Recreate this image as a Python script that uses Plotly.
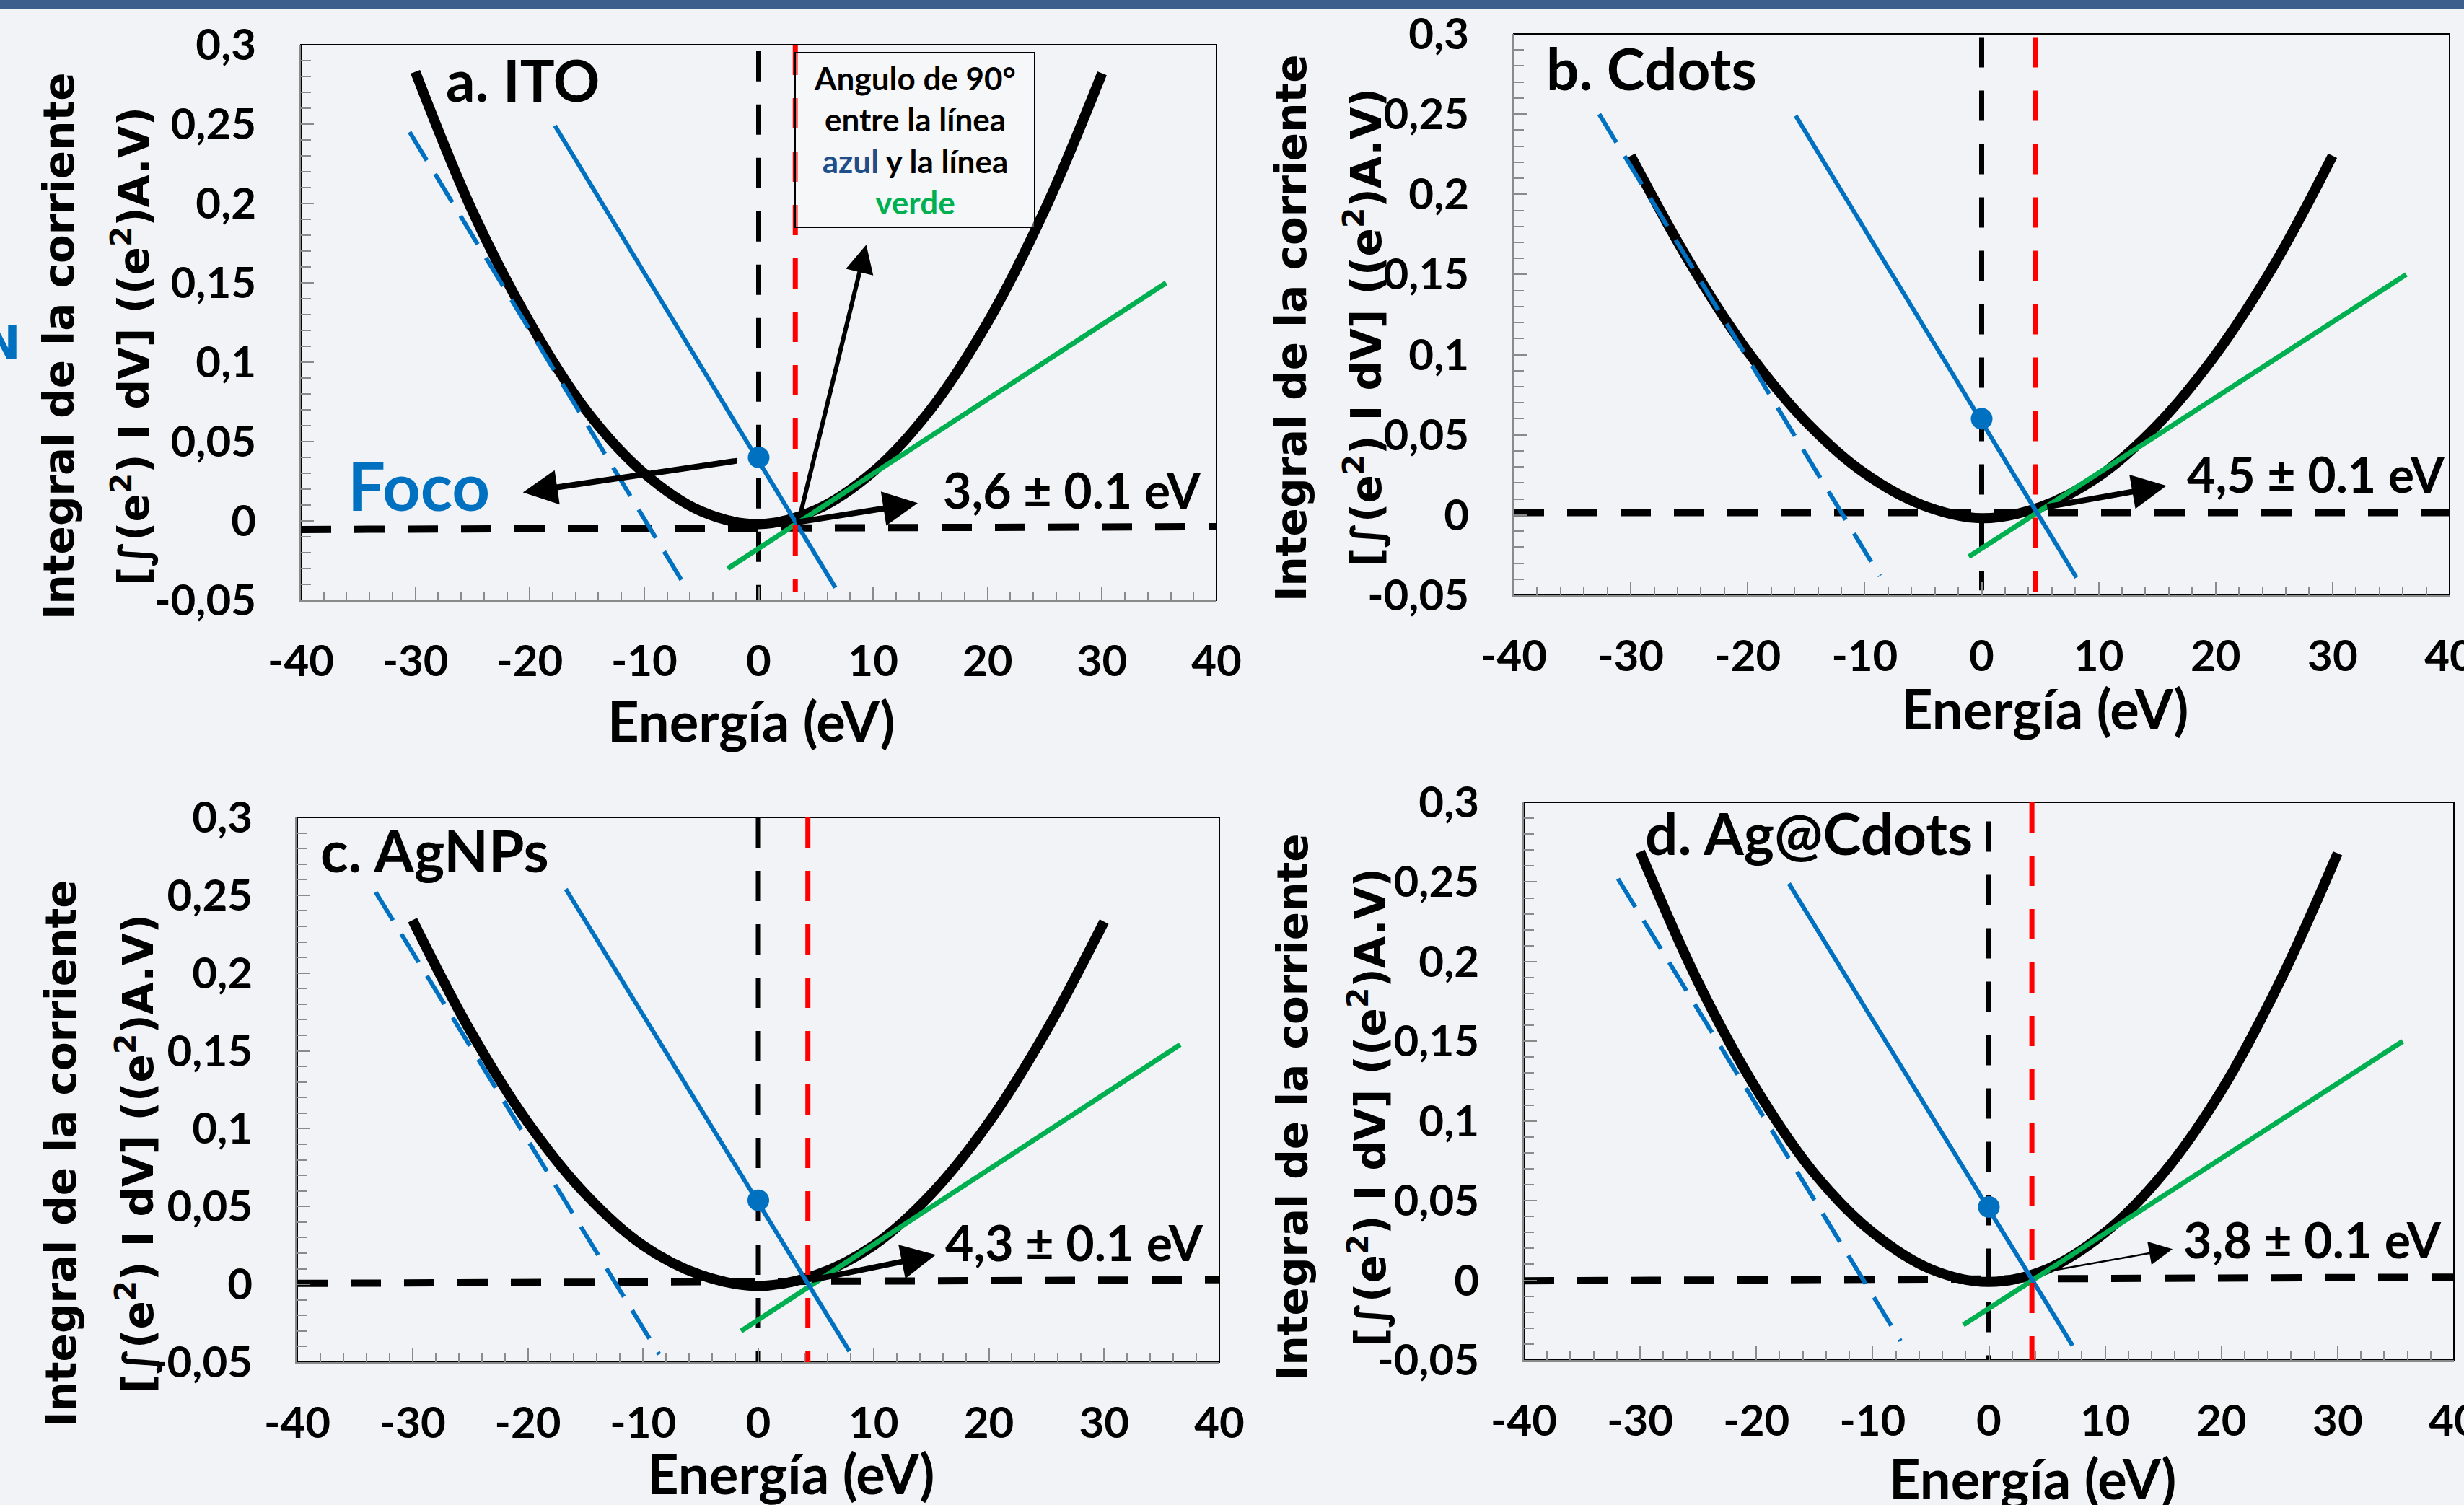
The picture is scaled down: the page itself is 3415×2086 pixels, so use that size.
import plotly.graph_objects as go

W, H = 3415, 2086

# ---------------- data ----------------
energy = [-30, -25, -20, -15, -10, -5, 0, 5, 10, 15, 20, 25, 30]
ito_curve = [0.283, 0.195, 0.125, 0.069, 0.030, 0.006, -0.002, 0.007, 0.031, 0.070, 0.125, 0.196, 0.282]
cdots_curve = [0.224, 0.158, 0.102, 0.058, 0.026, 0.006, -0.002, 0.005, 0.024, 0.056, 0.100, 0.156, 0.224]
agnps_curve = [0.234, 0.163, 0.104, 0.058, 0.025, 0.006, -0.001, 0.006, 0.025, 0.058, 0.104, 0.163, 0.233]
agcdots_curve = [0.269, 0.187, 0.120, 0.067, 0.030, 0.007, -0.001, 0.007, 0.030, 0.067, 0.119, 0.187, 0.268]

panel_titles = ["a. ITO", "b. Cdots", "c. AgNPs", "d. Ag@Cdots"]
wf_labels = ["3,6 ± 0.1 eV", "4,5 ± 0.1 eV", "4,3 ± 0.1 eV", "3,8 ± 0.1 eV"]
work_function_x = [3.2, 4.6, 4.3, 3.7]
focus_y = [0.040, 0.060, 0.054, 0.046]

blue_solid_x = [[-17.8, 6.7], [-15.9, 8.1], [-16.7, 7.9], [-17.2, 7.2]]
blue_solid_y = [[0.249, -0.042], [0.249, -0.039], [0.254, -0.043], [0.249, -0.041]]
blue_dash_x = [[-30.5, -6.1], [-32.7, -8.7], [-33.2, -8.6], [-31.9, -7.6]]
blue_dash_y = [[0.245, -0.045], [0.250, -0.038], [0.252, -0.045], [0.252, -0.038]]
green_x = [[-2.7, 35.6], [-1.1, 36.3], [-1.5, 36.6], [-2.2, 35.6]]
green_y = [[-0.030, 0.150], [-0.026, 0.150], [-0.030, 0.154], [-0.028, 0.150]]
baseline_x = [-40, 40]
baseline_y = [[-0.0054, -0.0036], [0.0015, 0.0015], [0.0006, 0.003], [-0.0003, 0.002]]
zero_line_y = [[0.296, -0.05], [0.298, -0.047], [0.30, -0.05], [0.288, -0.05]]
red_line_y = [[0.30, -0.045], [0.298, -0.048], [0.30, -0.05], [0.30, -0.05]]

# value arrows (tail at the crossing, head towards the label)
arrow_tail_x = [3.2, 5.5, 4.5, 5.2]
arrow_tail_y = [-0.001, 0.005, 0.0025, 0.0058]
arrow_head_x = [13.9, 15.8, 15.4, 15.8]
arrow_head_y = [0.0112, 0.0183, 0.019, 0.0196]
arrow_width = [8, 8, 8, 2.5]
label_x = [16.0, 17.4, 16.1, 16.6]
label_y = [0.020, 0.026, 0.027, 0.026]
title_x = [-27.45, -37.35, -38.1, -29.7]
title_y = [0.278, 0.279, 0.279, 0.281]

x_ticks = [-40, -30, -20, -10, 0, 10, 20, 30, 40]
x_ticklabels = ["-40", "-30", "-20", "-10", "0", "10", "20", "30", "40"]
y_ticks = [-0.05, 0, 0.05, 0.1, 0.15, 0.2, 0.25, 0.3]
y_ticklabels = ["-0,05", "0", "0,05", "0,1", "0,15", "0,2", "0,25", "0,3"]

curves = [ito_curve, cdots_curve, agnps_curve, agcdots_curve]

# ---------------- layout geometry (pixels) ----------------
plot_px = [  # left, right, top, bottom
    (417, 1686, 62, 832),
    (2098, 3395, 47, 825),
    (412, 1690, 1133, 1888),
    (2112, 3401, 1112, 1885),
]
ytitle_px = [  # line1 x, line2 x, center y
    (82, 182, 480),
    (1790, 1890, 454),
    (85, 188, 1599),
    (1792, 1896, 1535),
]
xtitle_px = [(1041, 998), (2834, 981), (1096, 2041), (2817, 2048)]

def px_x(p):
    return p / W

def px_y(p):
    return 1 - p / H

BLUE = "#0070c0"
GREEN = "#00b050"
RED = "#ff0000"
AXC = "#8a8a8a"
TICKFONT = dict(family="Lato, Open Sans, sans-serif", size=60, color="black", weight="bold")

fig = go.Figure()
for i in range(4):
    sfx = "" if i == 0 else str(i + 1)
    common = dict(xaxis="x" + sfx, yaxis="y" + sfx, showlegend=False, hoverinfo="skip", mode="lines")
    fig.add_trace(go.Scatter(x=baseline_x, y=baseline_y[i],
                             line=dict(color="black", width=10, dash="42px,32px"), **common))
    fig.add_trace(go.Scatter(x=[0, 0], y=zero_line_y[i],
                             line=dict(color="black", width=7, dash="42px,32px"), **common))
    fig.add_trace(go.Scatter(x=energy, y=curves[i],
                             line=dict(color="black", width=14, shape="spline", smoothing=1.0), **common))
    fig.add_trace(go.Scatter(x=green_x[i], y=green_y[i], line=dict(color=GREEN, width=7), **common))
    fig.add_trace(go.Scatter(x=blue_dash_x[i], y=blue_dash_y[i],
                             line=dict(color=BLUE, width=6, dash="46px,22px"), **common))
    fig.add_trace(go.Scatter(x=blue_solid_x[i], y=blue_solid_y[i], line=dict(color=BLUE, width=6), **common))
    fig.add_trace(go.Scatter(x=[work_function_x[i]] * 2, y=red_line_y[i],
                             line=dict(color=RED, width=7, dash="42px,32px"), **common))
    fig.add_trace(go.Scatter(x=[0], y=[focus_y[i]], mode="markers",
                             marker=dict(color=BLUE, size=30),
                             xaxis="x" + sfx, yaxis="y" + sfx, showlegend=False, hoverinfo="skip"))

layout = dict(
    width=W, height=H,
    margin=dict(l=0, r=0, t=0, b=0, pad=0, autoexpand=False),
    paper_bgcolor="#f2f3f6",
    plot_bgcolor="rgba(0,0,0,0)",
    showlegend=False,
)
shapes = [dict(type="rect", xref="paper", yref="paper", x0=0, x1=1, y0=px_y(13), y1=1,
               fillcolor="#3b5e8c", line=dict(width=0), layer="below")]
annotations = []

for i in range(4):
    sfx = "" if i == 0 else str(i + 1)
    l, r, t, b = plot_px[i]
    layout["xaxis" + sfx] = dict(
        domain=[px_x(l), px_x(r)], range=[-40, 40], anchor="y" + sfx, automargin=False,
        tickmode="array", tickvals=x_ticks, ticktext=x_ticklabels,
        ticks="inside", ticklen=19, tickwidth=2, tickcolor=AXC,
        minor=dict(tickmode="linear", tick0=-40, dtick=2, ticks="inside", ticklen=12,
                   tickwidth=2, tickcolor=AXC, showgrid=False),
        showline=True, linecolor=AXC, linewidth=3, showgrid=False, zeroline=False,
        tickfont=TICKFONT, ticklabelstandoff=30, ticklabeloverflow="allow",
    )
    layout["yaxis" + sfx] = dict(
        domain=[px_y(b), px_y(t)], range=[-0.05, 0.3], anchor="x" + sfx, automargin=False,
        tickmode="array", tickvals=y_ticks, ticktext=y_ticklabels,
        ticks="inside", ticklen=18, tickwidth=2, tickcolor=AXC,
        minor=dict(tickmode="linear", tick0=-0.05, dtick=0.01, ticks="inside", ticklen=14,
                   tickwidth=2, tickcolor=AXC, showgrid=False),
        showline=True, linecolor=AXC, linewidth=3, showgrid=False, zeroline=False,
        tickfont=TICKFONT, ticklabelstandoff=47,
    )
    shapes.append(dict(type="rect", xref=f"x{sfx} domain", yref=f"y{sfx} domain",
                       x0=0, x1=1, y0=0, y1=1, line=dict(color="black", width=2), layer="below"))

    xr, yr = "x" + sfx, "y" + sfx
    # panel title
    annotations.append(dict(xref=xr, yref=yr, x=title_x[i], y=title_y[i], text=panel_titles[i],
                            showarrow=False, xanchor="left", yanchor="middle",
                            font=dict(family="Lato, sans-serif", size=80, color="black", weight="bold")))
    # value arrow
    annotations.append(dict(xref=xr, yref=yr, axref=xr, ayref=yr,
                            x=arrow_head_x[i], y=arrow_head_y[i], ax=arrow_tail_x[i], ay=arrow_tail_y[i],
                            text="", showarrow=True, arrowhead=2, arrowsize=1.2 if i < 3 else 2.6,
                            arrowwidth=arrow_width[i], arrowcolor="black"))
    annotations.append(dict(xref=xr, yref=yr, x=label_x[i], y=label_y[i], text=wf_labels[i],
                            showarrow=False, xanchor="left", yanchor="middle",
                            font=dict(family="Lato, sans-serif", size=68, color="black", weight="bold")))
    # y titles
    x1p, x2p, ycp = ytitle_px[i]
    annotations.append(dict(xref="paper", yref="paper", x=px_x(x1p), y=px_y(ycp),
                            text="Integral de la corriente", textangle=-90, showarrow=False,
                            xanchor="center", yanchor="middle",
                            font=dict(family="DejaVu Sans", size=58, color="black", weight="bold")))
    annotations.append(dict(xref="paper", yref="paper", x=px_x(x2p), y=px_y(ycp),
                            text="[∫(e<sup>2</sup>) I dV] ((e<sup>2</sup>)A.V)", textangle=-90,
                            showarrow=False, xanchor="center", yanchor="middle",
                            font=dict(family="DejaVu Sans", size=58, color="black", weight="bold")))
    # x titles
    xtp, ytp = xtitle_px[i]
    annotations.append(dict(xref="paper", yref="paper", x=px_x(xtp), y=px_y(ytp),
                            text="Energía (eV)", showarrow=False, xanchor="center", yanchor="middle",
                            font=dict(family="Lato, sans-serif", size=76, color="black", weight="bold")))

# panel a extras: focus label, angle note box and their arrows
foco_tail = (-1.8, 0.038)
foco_head = (-20.6, 0.018)
box_tail = (3.6, 0.003)
box_head = (9.4, 0.174)
annotations.append(dict(xref="x", yref="y", axref="x", ayref="y",
                        x=foco_head[0], y=foco_head[1], ax=foco_tail[0], ay=foco_tail[1],
                        text="", showarrow=True, arrowhead=2, arrowsize=1.2, arrowwidth=8, arrowcolor="black"))
annotations.append(dict(xref="x", yref="y", axref="x", ayref="y",
                        x=box_head[0], y=box_head[1], ax=box_tail[0], ay=box_tail[1],
                        text="", showarrow=True, arrowhead=2, arrowsize=1.3, arrowwidth=6, arrowcolor="black"))
annotations.append(dict(xref="x", yref="y", x=-29.7, y=0.0227, text="Foco", showarrow=False,
                        xanchor="center", yanchor="middle",
                        font=dict(family="Lato, sans-serif", size=92, color=BLUE, weight="bold")))
annotations.append(dict(xref="x", yref="y", x=13.66, y=0.24,
                        text=("Angulo de 90°<br>entre la línea<br>"
                              "<span style='color:#1f4e89'>azul</span> y la línea<br>"
                              "<span style='color:#00b050'>verde</span>"),
                        showarrow=False, xanchor="center", yanchor="middle", align="center",
                        width=318, height=228, borderpad=6,
                        bordercolor="black", borderwidth=2, bgcolor="rgba(255,255,255,0.35)",
                        font=dict(family="Lato, sans-serif", size=44, color="black", weight="bold")))
# cut-off blue glyph at the left edge
annotations.append(dict(xref="paper", yref="paper", x=px_x(2), y=px_y(475), text="N", showarrow=False,
                        xanchor="center", yanchor="middle",
                        font=dict(family="DejaVu Sans", size=64, color=BLUE, weight="bold")))

layout["shapes"] = shapes
layout["annotations"] = annotations
fig.update_layout(**layout)

fig.write_html("out.html", config={"displayModeBar": False},
               post_script="document.body.style.margin='0';document.body.style.overflow='hidden';")
